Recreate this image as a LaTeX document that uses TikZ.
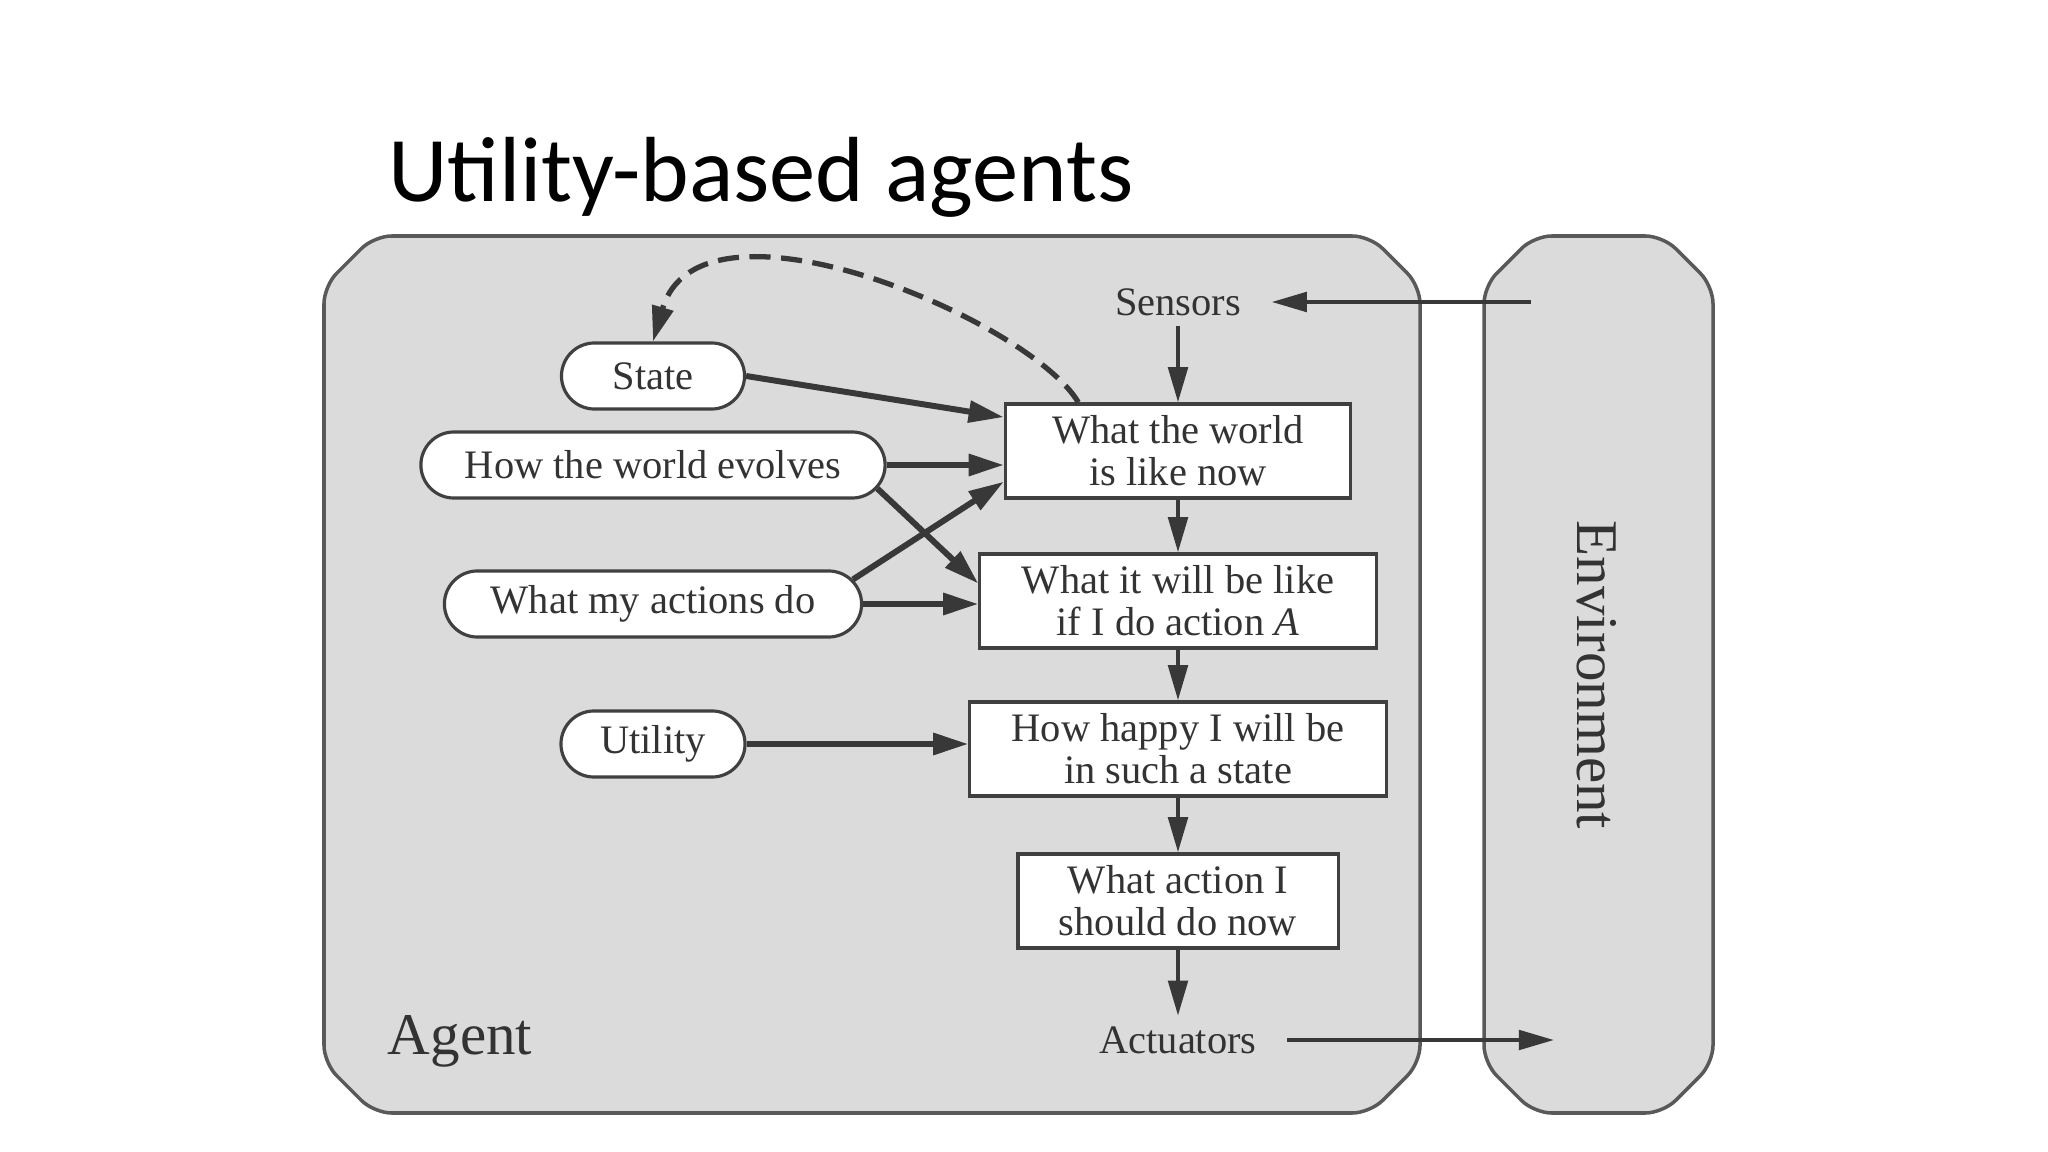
\documentclass[tikz,border=0pt]{standalone}
\usepackage{fontspec}
\setmainfont{Liberation Serif}
\newfontfamily\slidefont{Carlito}
\usetikzlibrary{arrows.meta, shapes.misc}

\begin{document}
\begin{tikzpicture}[x=0.01cm, y=-0.01cm,
every node/.style={text=black!80, font=\fontsize{11.5}{12}\selectfont},
panel/.style={draw=black!65, line width=1pt, fill=black!14, rounded corners=5pt},
pill/.style={draw=black!75, line width=0.9pt, fill=white, rounded rectangle, minimum height=0.66cm, inner xsep=2pt},
stepbox/.style={draw=black!75, line width=0.9pt, fill=white, align=center, minimum height=0.93cm},
feed/.style={draw=black!78, line width=1.7pt, -{Triangle[length=10pt, width=6pt]}},
flow/.style={draw=black!78, line width=1.2pt, -{Triangle[length=10pt, width=5.5pt]}}]
\useasboundingbox (0,0) rectangle (2048,1152);
\node[anchor=base west, text=black, font=\slidefont\fontsize{26.3}{30}\selectfont] (title) at (376,202) {Utility-based agents};
\draw[panel] (374,236) -- (1370,236) -- (1420,286) -- (1420,1063) -- (1370,1113) -- (374,1113) -- (324,1063) -- (324,286) -- cycle;
\draw[panel] (1534,236) -- (1663,236) -- (1713,286) -- (1713,1063) -- (1663,1113) -- (1534,1113) -- (1484,1063) -- (1484,286) -- cycle;
\node[font=\fontsize{16.8}{18}\selectfont] (agent) at (460,1041) {Agent};
\node[rotate=-90, font=\fontsize{16.8}{18}\selectfont] (env) at (1597,675) {Environment};
\node[inner xsep=0.3cm, inner ysep=0.1cm] (sensors) at (1178,302) {Sensors};
\node[inner xsep=0.3cm, inner ysep=0.1cm] (actuators) at (1178,1040) {Actuators};
\node[stepbox, minimum width=3.45cm] (world) at (1178,451) {What the world\\is like now};
\node[stepbox, minimum width=3.96cm] (willbe) at (1178,601) {What it will be like\\if I do action \textit{A}};
\node[stepbox, minimum width=4.16cm] (happy) at (1178,749) {How happy I will be\\in such a state};
\node[stepbox, minimum width=3.20cm] (action) at (1178,901) {What action I\\should do now};
\node[pill, minimum width=1.97cm] (state) at (653,376) {State};
\node[pill, minimum width=4.78cm] (hw) at (653,465) {How the world evolves};
\node[pill, minimum width=4.31cm] (ma) at (653,604) {What my actions do};
\node[pill, minimum width=1.98cm] (ut) at (653,744) {Utility};
\coordinate (envin) at (1531,302);
\coordinate (envout) at (1554,1040);
\draw[flow] (envin) -- (sensors);
\draw[flow] (sensors) -- (world);
\draw[flow] (world) -- (willbe);
\draw[flow] (willbe) -- (happy);
\draw[flow] (happy) -- (action);
\draw[flow] (action) -- (actuators);
\draw[flow] (actuators) -- (envout);
\draw[feed] (state.east) -- (world.169);
\draw[feed] (hw.east) -- (hw.east -| world.west);
\draw[feed] (hw.-6) -- (willbe.175);
\draw[feed] (ma.7) -- (world.190);
\draw[feed] (ma.east) -- (ma.east -| willbe.west);
\draw[feed] (ut.east) -- (ut.east -| happy.west);
\draw[feed, dash pattern=on 6pt off 3pt, line width=1.5pt] (world.154) .. controls (1030,320) and (700,180) .. (state.north);
\end{tikzpicture}
\end{document}
